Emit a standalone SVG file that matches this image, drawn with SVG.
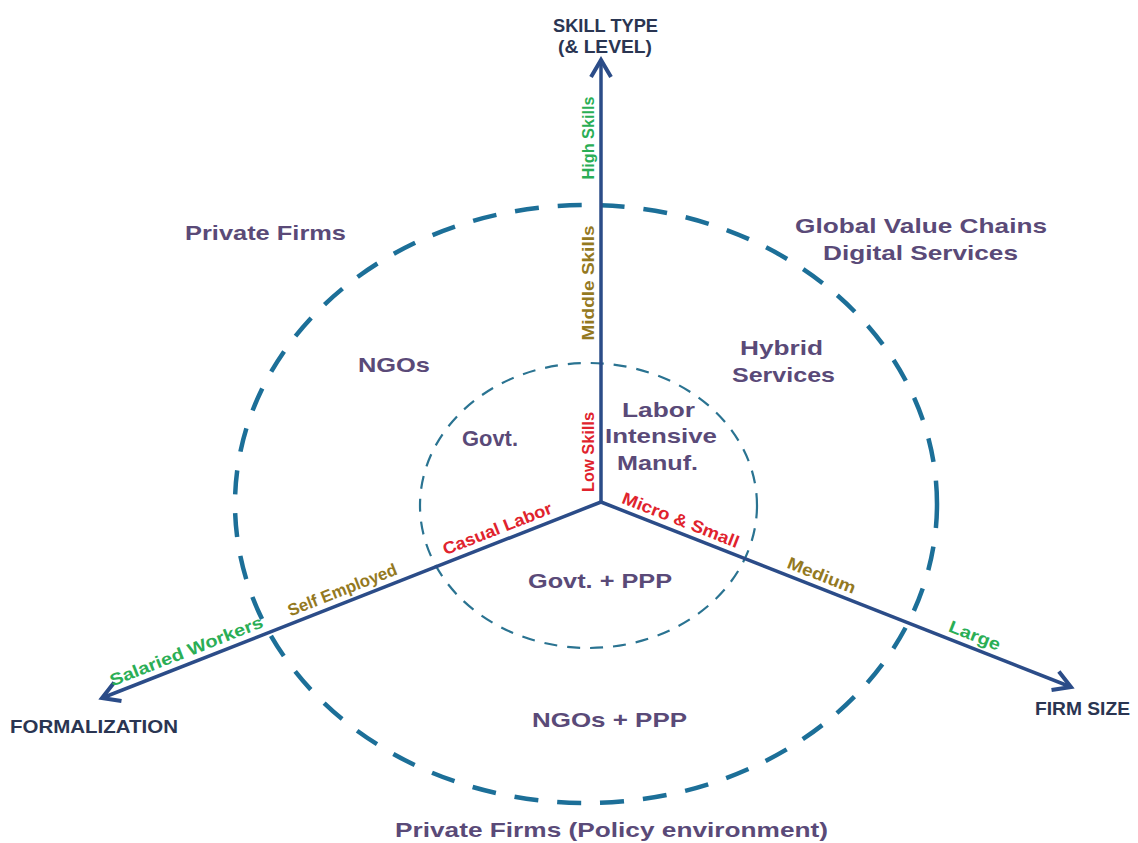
<svg xmlns="http://www.w3.org/2000/svg" width="1138" height="843" viewBox="0 0 1138 843">
<defs>
<style>
.axis{stroke:#2b4c88;stroke-width:3.5;fill:none;marker-end:url(#arrow)}
.outer{fill:none;stroke:#1c6f98;stroke-width:4.5;stroke-dasharray:24 19}
.inner{fill:none;stroke:#2a7391;stroke-width:2.2;stroke-dasharray:13 10}
.region{font-family:"Liberation Sans",Arial,sans-serif;font-weight:bold;font-size:21px;fill:#5a4a78;text-anchor:middle}
.title{font-family:"Liberation Sans",Arial,sans-serif;font-weight:bold;font-size:19px;fill:#2a3552;text-anchor:middle}
.lbl{font-family:"Liberation Sans",Arial,sans-serif;font-weight:bold;font-size:17px;text-anchor:middle}
.green{fill:#2aae55}
.olive{fill:#94791f}
.red{fill:#e0232d}
</style>
<marker id="arrow" markerUnits="userSpaceOnUse" markerWidth="40" markerHeight="40" viewBox="-20 -20 40 40" refX="0" refY="0" orient="auto">
<path d="M-17,-10 L0,0 L-17,10" fill="none" stroke="#2b4c88" stroke-width="4" stroke-linejoin="miter"/>
</marker>
</defs>
<rect width="1138" height="843" fill="#ffffff"/>
<g id="rings">
<ellipse class="outer" cx="586" cy="504" rx="351" ry="299"/>
<ellipse class="inner" cx="588.5" cy="505.5" rx="168.5" ry="142.5"/>
</g>
<g id="connectors">
<line class="axis" x1="601" y1="502" x2="601" y2="60"/>
<line class="axis" x1="601" y1="502" x2="102" y2="698"/>
<line class="axis" x1="601" y1="502" x2="1071" y2="687"/>
</g>
<g id="axis-titles">
<text class="title" x="605.5" y="32" textLength="105" lengthAdjust="spacingAndGlyphs">SKILL TYPE</text>
<text class="title" x="605" y="53" textLength="94" lengthAdjust="spacingAndGlyphs">(&amp; LEVEL)</text>
<text class="title" x="94" y="733" textLength="168" lengthAdjust="spacingAndGlyphs">FORMALIZATION</text>
<text class="title" x="1082.5" y="715" textLength="95" lengthAdjust="spacingAndGlyphs">FIRM SIZE</text>
</g>
<g id="skill-labels">
<text class="lbl green" transform="translate(594,138) rotate(-90)" textLength="83" lengthAdjust="spacingAndGlyphs">High Skills</text>
<text class="lbl olive" transform="translate(594,283) rotate(-90)" textLength="115" lengthAdjust="spacingAndGlyphs">Middle Skills</text>
<text class="lbl red" transform="translate(594,452) rotate(-90)" textLength="80" lengthAdjust="spacingAndGlyphs">Low Skills</text>
</g>
<g id="formalization-labels">
<text class="lbl red" transform="translate(502,540.6) rotate(-21.5)" y="-7" textLength="116" lengthAdjust="spacingAndGlyphs">Casual Labor</text>
<text class="lbl olive" transform="translate(347,601.7) rotate(-21.5)" y="-7" textLength="116" lengthAdjust="spacingAndGlyphs">Self Employed</text>
<text class="lbl green" transform="translate(191,663.1) rotate(-21.5)" y="-7" textLength="163" lengthAdjust="spacingAndGlyphs">Salaried Workers</text>
</g>
<g id="firm-size-labels">
<text class="lbl red" transform="translate(676,531.9) rotate(21.45)" y="-7" textLength="124" lengthAdjust="spacingAndGlyphs">Micro &amp; Small</text>
<text class="lbl olive" transform="translate(817,587.3) rotate(21.45)" y="-7" textLength="72" lengthAdjust="spacingAndGlyphs">Medium</text>
<text class="lbl green" transform="translate(970,647.4) rotate(21.45)" y="-7" textLength="54" lengthAdjust="spacingAndGlyphs">Large</text>
</g>
<g id="node-private-firms">
<text class="region" x="265.5" y="240" textLength="161" lengthAdjust="spacingAndGlyphs">Private Firms</text>
</g>
<g id="node-gvc">
<text class="region" x="921" y="233" textLength="252" lengthAdjust="spacingAndGlyphs">Global Value Chains</text>
<text class="region" x="920.5" y="260" textLength="195" lengthAdjust="spacingAndGlyphs">Digital Services</text>
</g>
<g id="node-ngos">
<text class="region" x="394" y="372" textLength="72" lengthAdjust="spacingAndGlyphs">NGOs</text>
</g>
<g id="node-hybrid">
<text class="region" x="781.5" y="355" textLength="83" lengthAdjust="spacingAndGlyphs">Hybrid</text>
<text class="region" x="783.5" y="382" textLength="103" lengthAdjust="spacingAndGlyphs">Services</text>
</g>
<g id="node-govt">
<text class="region" x="490" y="446" style="font-size:22px" textLength="56" lengthAdjust="spacingAndGlyphs">Govt.</text>
</g>
<g id="node-labor">
<text class="region" x="658.5" y="417" textLength="73" lengthAdjust="spacingAndGlyphs">Labor</text>
<text class="region" x="661" y="443" textLength="112" lengthAdjust="spacingAndGlyphs">Intensive</text>
<text class="region" x="657.5" y="470" textLength="81" lengthAdjust="spacingAndGlyphs">Manuf.</text>
</g>
<g id="node-govt-ppp">
<text class="region" x="600" y="588" textLength="144" lengthAdjust="spacingAndGlyphs">Govt. + PPP</text>
</g>
<g id="node-ngos-ppp">
<text class="region" x="609.5" y="727" textLength="155" lengthAdjust="spacingAndGlyphs">NGOs + PPP</text>
</g>
<g id="node-private-policy">
<text class="region" x="611.5" y="837" textLength="433" lengthAdjust="spacingAndGlyphs">Private Firms (Policy environment)</text>
</g>
</svg>
